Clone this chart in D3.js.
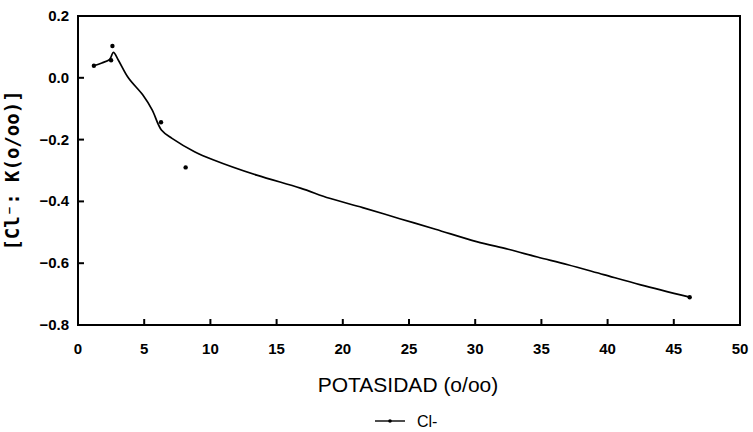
<!DOCTYPE html>
<html>
<head>
<meta charset="utf-8">
<script src="https://cdn.jsdelivr.net/npm/d3@7/dist/d3.min.js"></script>
<style>
  body { margin: 0; background: #fff; }
  svg { display: block; }
</style>
</head>
<body>
<div id="chart"></div>
<script>
// measured points (Cl-)
const obsK = [1.2, 2.5, 2.6, 6.27, 8.13, 46.2];
const obsCl = [0.039, 0.057, 0.103, -0.144, -0.29, -0.71];

// fitted curve
const curveK = [1.2, 1.8, 2.4, 2.67, 3.05, 3.8, 4.9, 5.6, 6.3, 7.1, 8.8, 10.2, 13.5, 16.8, 19.0, 21.5, 24.3, 27.0, 30.1, 32.5, 34.7, 37.0, 39.7, 42.5, 46.2];
const curveCl = [0.039, 0.048, 0.06, 0.082, 0.057, 0.0, -0.056, -0.104, -0.169, -0.196, -0.239, -0.265, -0.315, -0.357, -0.39, -0.42, -0.456, -0.49, -0.53, -0.555, -0.58, -0.605, -0.637, -0.67, -0.71];

const xTicks = [0, 5, 10, 15, 20, 25, 30, 35, 40, 45, 50];
const yTicks = [0.2, 0.0, -0.2, -0.4, -0.6, -0.8];

const width = 753, height = 432;
const margin = { top: 16, right: 13, bottom: 107, left: 78 };
const ink = "#000";

const svg = d3.select("#chart").append("svg")
  .attr("width", width)
  .attr("height", height);

const x = d3.scaleLinear().domain([0, 50]).range([margin.left, width - margin.right]);
const y = d3.scaleLinear().domain([-0.8, 0.2]).range([height - margin.bottom, margin.top]);

// tick labels
svg.append("g").selectAll("text")
  .data(xTicks)
  .join("text")
  .attr("x", d => x(d))
  .attr("y", y(-0.8) + 29)
  .attr("text-anchor", "middle")
  .style("font-family", "Liberation Sans, Arial, sans-serif")
  .style("font-weight", "bold")
  .style("font-size", "15px")
  .attr("fill", ink)
  .text(d => d);

svg.append("g").selectAll("text")
  .data(yTicks)
  .join("text")
  .attr("x", x(0) - 9)
  .attr("y", d => y(d) + 5)
  .attr("text-anchor", "end")
  .style("font-family", "Liberation Sans, Arial, sans-serif")
  .style("font-weight", "bold")
  .style("font-size", "15px")
  .attr("fill", ink)
  .text(d => d3.format(".1f")(d));

// axis titles
svg.append("text")
  .attr("x", 408).attr("y", 392)
  .attr("text-anchor", "middle")
  .style("font-family", "Liberation Sans, Arial, sans-serif")
  .style("font-size", "21px")
  .attr("fill", ink)
  .text("POTASIDAD (o/oo)");

svg.append("text")
  .attr("transform", `translate(19, ${(y(0.2) + y(-0.8)) / 2}) rotate(-90)`)
  .attr("text-anchor", "middle")
  .style("font-family", "DejaVu Sans Mono, monospace")
  .style("font-weight", "bold")
  .style("font-size", "19px")
  .attr("fill", ink)
  .text("[Cl⁻: K(o/oo)]");

// curve
const smooth = d3.line()
  .x(d => x(d[0]))
  .y(d => y(d[1]))
  .curve(d3.curveCatmullRom.alpha(0.5));

svg.append("path")
  .datum(d3.zip(curveK, curveCl))
  .attr("d", smooth)
  .attr("fill", "none")
  .attr("stroke", ink)
  .attr("stroke-width", 1.7);

// points
svg.append("g").selectAll("circle")
  .data(d3.zip(obsK, obsCl))
  .join("circle")
  .attr("cx", d => x(d[0]))
  .attr("cy", d => y(d[1]))
  .attr("r", 2.2)
  .attr("fill", ink);

// legend
svg.append("line")
  .attr("x1", 375).attr("x2", 405)
  .attr("y1", 421).attr("y2", 421)
  .attr("stroke", ink).attr("stroke-width", 1.4);
svg.append("circle")
  .attr("cx", 390).attr("cy", 421).attr("r", 1.8).attr("fill", ink);
svg.append("text")
  .attr("x", 417).attr("y", 427)
  .style("font-family", "Liberation Sans, Arial, sans-serif")
  .style("font-size", "16px")
  .attr("fill", ink)
  .text("Cl-");

// inward tick marks
svg.append("g").selectAll("line")
  .data(xTicks.slice(1, -1))
  .join("line")
  .attr("x1", d => x(d)).attr("x2", d => x(d))
  .attr("y1", y(-0.8)).attr("y2", y(-0.8) - 6)
  .attr("stroke", ink).attr("stroke-width", 2);

svg.append("g").selectAll("line")
  .data(yTicks.slice(1, -1))
  .join("line")
  .attr("x1", x(0)).attr("x2", x(0) + 6)
  .attr("y1", d => y(d)).attr("y2", d => y(d))
  .attr("stroke", ink).attr("stroke-width", 2);

// frame, drawn last
svg.append("rect")
  .attr("x", x(0)).attr("y", y(0.2))
  .attr("width", x(50) - x(0)).attr("height", y(-0.8) - y(0.2))
  .attr("fill", "none").attr("stroke", ink).attr("stroke-width", 2);
</script>
</body>
</html>
